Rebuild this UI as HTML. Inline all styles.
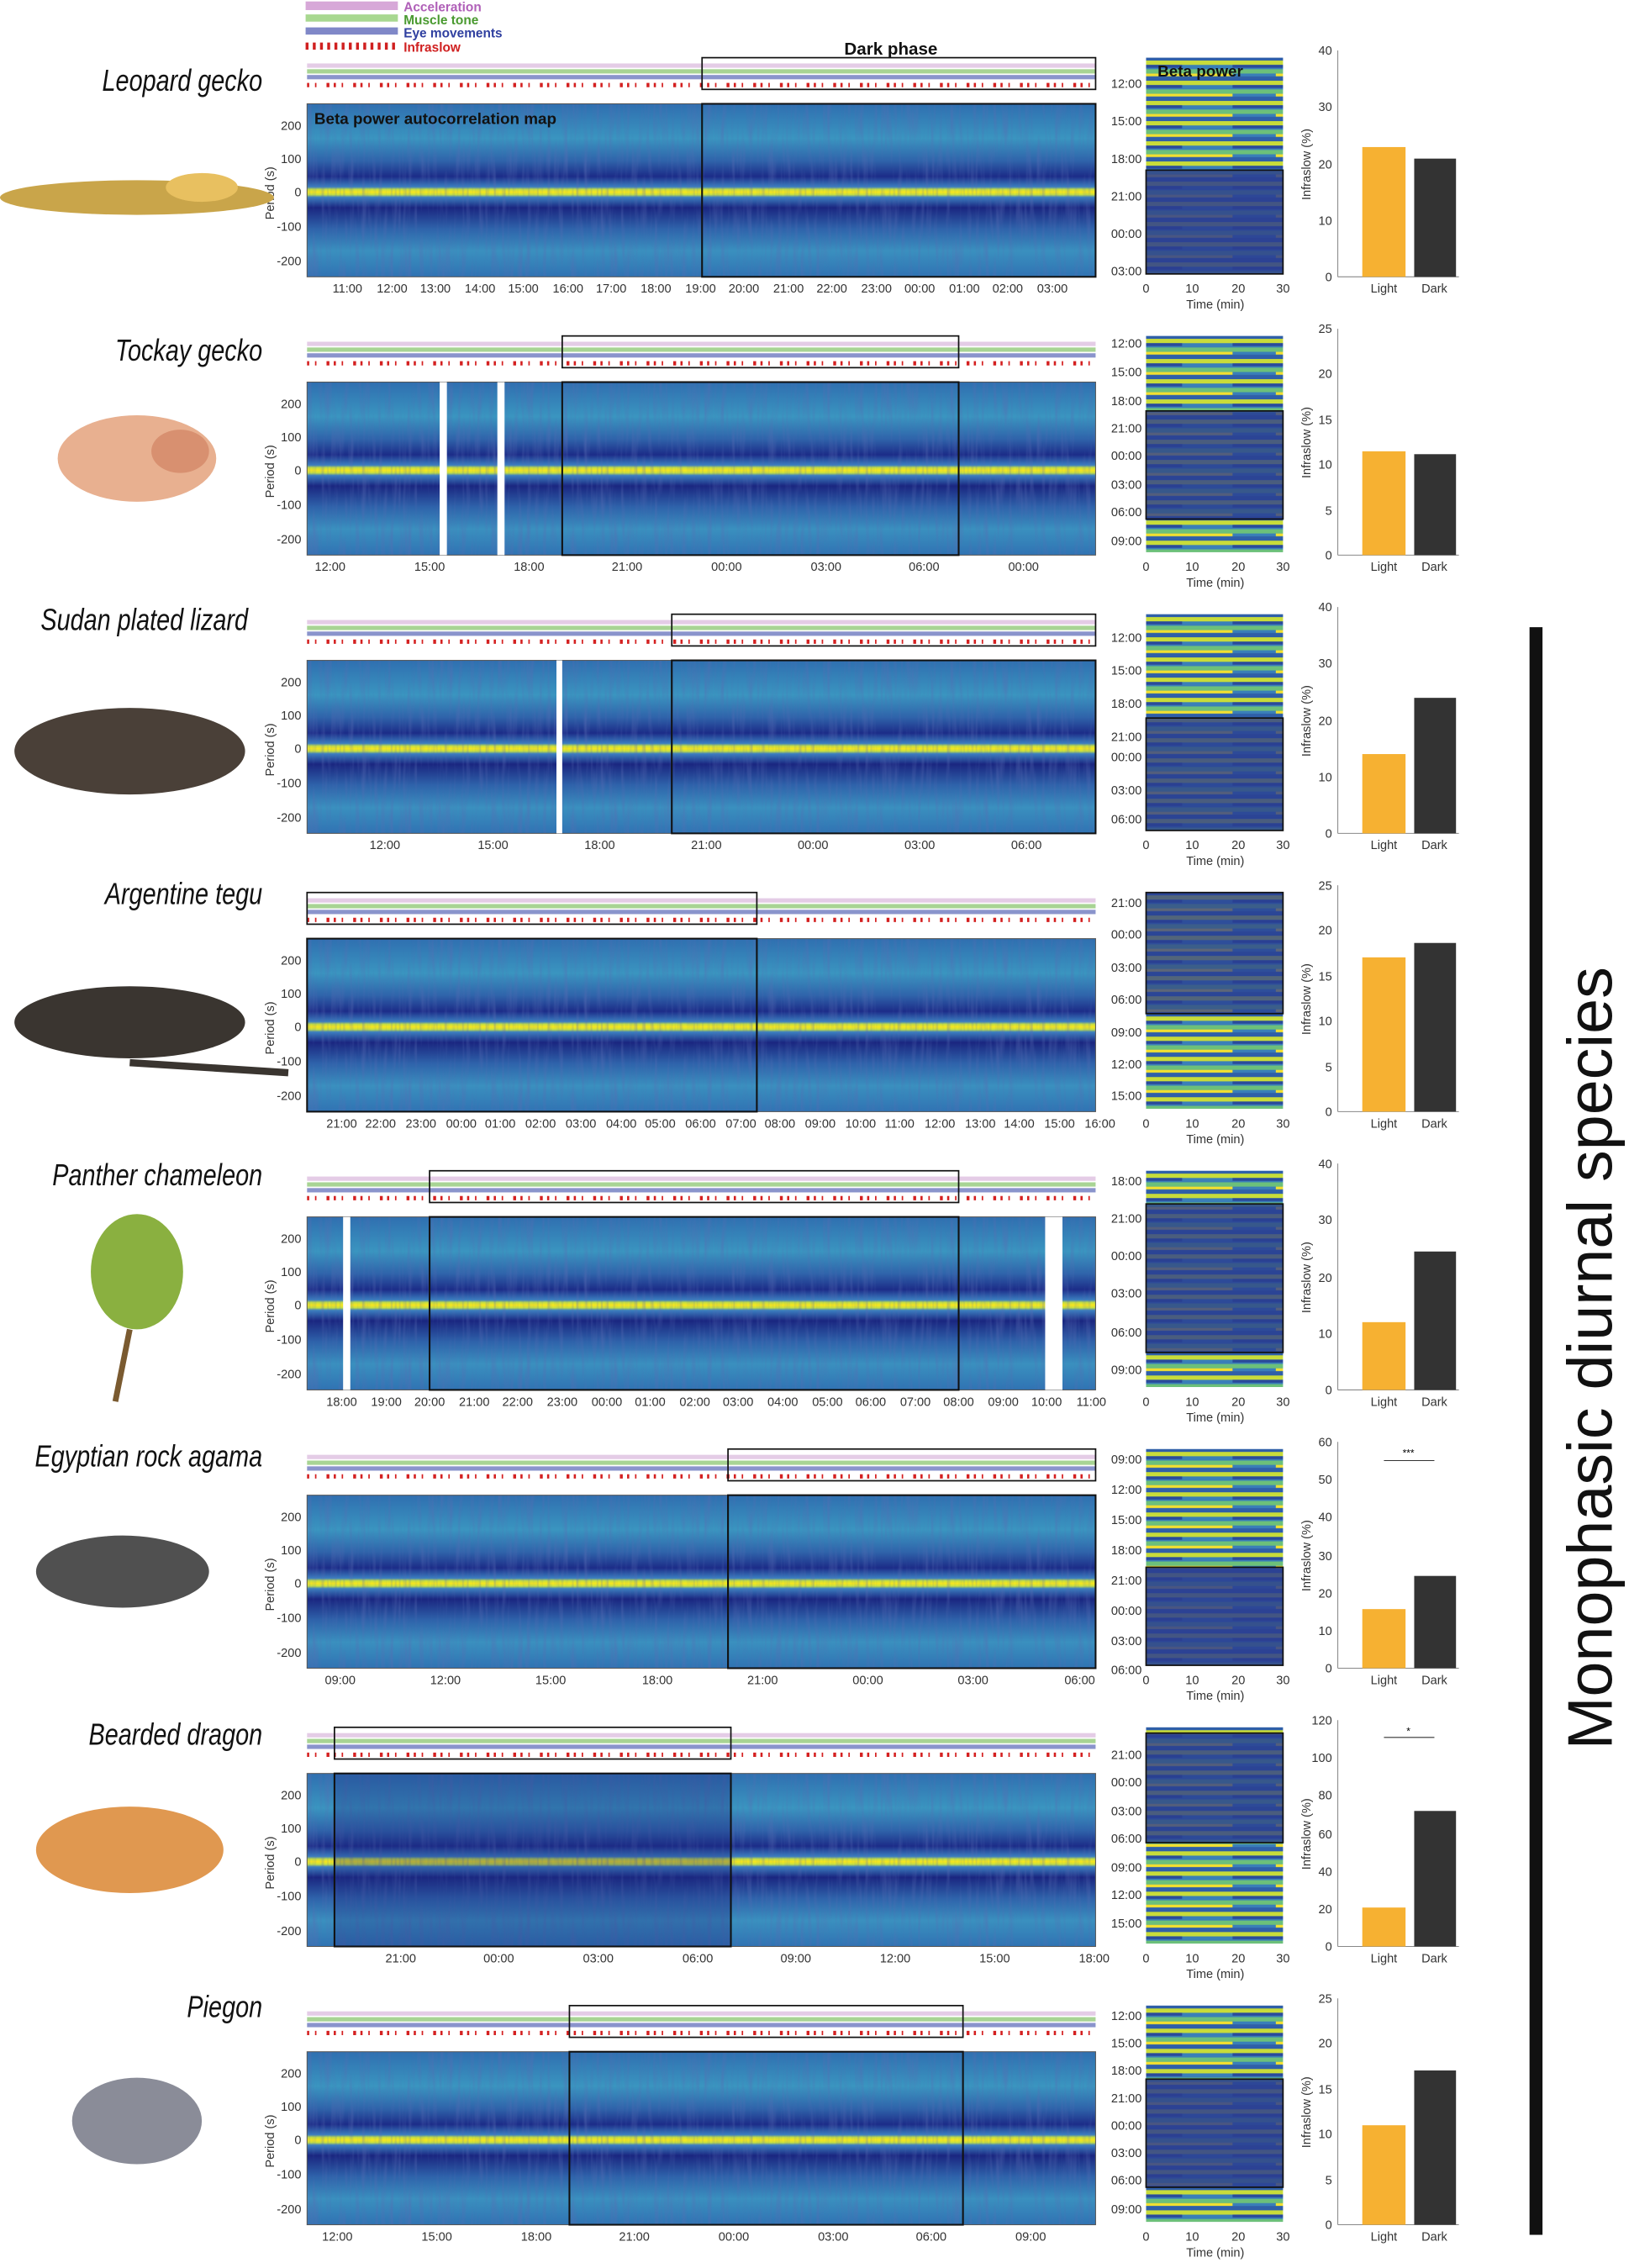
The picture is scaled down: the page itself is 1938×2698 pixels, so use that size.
<!DOCTYPE html>
<html><head><meta charset="utf-8"><style>
html,body{margin:0;padding:0;background:#fff}
svg{display:block}
text{font-family:"Liberation Sans",sans-serif}
.t{font-size:8.5px;fill:#333;text-anchor:middle}
.ty{font-size:8.5px;fill:#333;text-anchor:end}
.sp{font-size:21px;font-style:italic;text-anchor:end;fill:#111}
.lab{font-size:8.5px;fill:#333;text-anchor:middle}
</style></head><body>
<svg width="1938" height="2698" viewBox="0 0 1130 1573" preserveAspectRatio="none" xmlns="http://www.w3.org/2000/svg">
<defs>
<linearGradient id="hm" x1="0" y1="0" x2="0" y2="1">
<stop offset="0" stop-color="#2f6fb0"/><stop offset="0.2" stop-color="#3a95c0"/><stop offset="0.33" stop-color="#2f63aa"/>
<stop offset="0.42" stop-color="#1c2c88"/><stop offset="0.48" stop-color="#3b7fc0"/><stop offset="0.495" stop-color="#c8e040"/>
<stop offset="0.51" stop-color="#f7e61e"/><stop offset="0.525" stop-color="#c8e040"/><stop offset="0.54" stop-color="#3b7fc0"/>
<stop offset="0.6" stop-color="#1a2680"/><stop offset="0.72" stop-color="#2e62aa"/><stop offset="0.85" stop-color="#3a90bf"/><stop offset="1" stop-color="#3073b3"/>
</linearGradient>
<filter id="tex" x="0" y="0" width="1" height="1">
<feTurbulence type="fractalNoise" baseFrequency="0.35 0.03" numOctaves="2" seed="3"/>
<feColorMatrix type="matrix" values="0 0 0 0 0.1  0 0 0 0 0.15  0 0 0 0 0.45  0 0 0 1.6 -0.7"/>
</filter>
<pattern id="rp" width="95" height="14" patternUnits="userSpaceOnUse">
<rect width="95" height="14" fill="#3a7fb8"/>
<rect y="0" width="95" height="3" fill="#c8dc3a"/><rect y="3" width="60" height="2" fill="#2a4a9a"/>
<rect y="6" width="95" height="3" fill="#6cc07a"/><rect x="30" y="9" width="65" height="2" fill="#f2e030"/>
<rect y="11" width="95" height="3" fill="#2f5fa8"/>
</pattern>
<g id="hmap">
<rect x="213" y="72" width="547" height="120" fill="url(#hm)"/>
<rect x="213" y="72" width="547" height="120" filter="url(#tex)" opacity="0.6"/>
</g>
<g id="common">
<use href="#hmap"/>
<rect x="213" y="72" width="547" height="120" fill="none" stroke="#555" stroke-width="0.6"/>
<text class="ty" x="209" y="90">200</text><text class="ty" x="209" y="113">100</text><text class="ty" x="209" y="136">0</text>
<text class="ty" x="209" y="160">-100</text><text class="ty" x="209" y="184">-200</text>
<text class="lab" transform="translate(190,134) rotate(-90)">Period (s)</text>
<rect x="213" y="44" width="547" height="3" fill="#e4cce6"/>
<rect x="213" y="48" width="547" height="3" fill="#a8d494"/>
<rect x="213" y="52" width="547" height="3" fill="#8a94cc"/>
<line x1="213" y1="59" x2="760" y2="59" stroke="#d42020" stroke-width="3" stroke-dasharray="1.5 4 1 7 2 3"/>
<rect x="795" y="40" width="95" height="150" fill="url(#rp)"/>
<text class="t" x="795" y="203">0</text><text class="t" x="827" y="203">10</text><text class="t" x="859" y="203">20</text><text class="t" x="890" y="203">30</text>
<text class="lab" x="843" y="214">Time (min)</text>
<line x1="928" y1="35" x2="928" y2="192" stroke="#888" stroke-width="0.6"/>
<line x1="928" y1="192" x2="1012" y2="192" stroke="#888" stroke-width="0.6"/>
<text class="lab" x="960" y="203">Light</text><text class="lab" x="995" y="203">Dark</text>
<text class="lab" transform="translate(909,114) rotate(-90)">Infraslow (%)</text>
</g>
</defs>

<rect x="212" y="1" width="64" height="6" fill="#d7a8d8"/><text x="280" y="8" font-size="9" font-weight="bold" fill="#b060b8">Acceleration</text>
<rect x="212" y="10" width="64" height="5" fill="#a8d890"/><text x="280" y="17" font-size="9" font-weight="bold" fill="#4a9a30">Muscle tone</text>
<rect x="212" y="19" width="64" height="5" fill="#8088c8"/><text x="280" y="26" font-size="9" font-weight="bold" fill="#3040a0">Eye movements</text>
<line x1="212" y1="32" x2="276" y2="32" stroke="#d02020" stroke-width="5" stroke-dasharray="2 3"/><text x="280" y="36" font-size="9" font-weight="bold" fill="#d02020">Infraslow</text>
<text x="618" y="38" font-size="12" font-weight="bold" text-anchor="middle" fill="#111">Dark phase</text>

<g>
<use href="#common"/>
<rect x="487" y="40" width="273" height="22" fill="none" stroke="#111"/>
<rect x="487" y="72" width="273" height="120" fill="none" stroke="#111" stroke-width="1.2"/>
<text x="218" y="86" font-size="11" font-weight="bold" fill="#111">Beta power autocorrelation map</text>
<g class="t"><text x="241" y="203">11:00</text><text x="272" y="203">12:00</text><text x="302" y="203">13:00</text><text x="333" y="203">14:00</text><text x="363" y="203">15:00</text><text x="394" y="203">16:00</text><text x="424" y="203">17:00</text><text x="455" y="203">18:00</text><text x="486" y="203">19:00</text><text x="516" y="203">20:00</text><text x="547" y="203">21:00</text><text x="577" y="203">22:00</text><text x="608" y="203">23:00</text><text x="638" y="203">00:00</text><text x="669" y="203">01:00</text><text x="699" y="203">02:00</text><text x="730" y="203">03:00</text></g>
<rect x="795" y="118" width="95" height="72" fill="#2b3d90" opacity="0.85"/><rect x="795" y="118" width="95" height="72" fill="none" stroke="#111"/>
<text x="803" y="53" font-size="11" font-weight="bold" fill="#111">Beta power</text>
<g class="ty"><text x="792" y="61">12:00</text><text x="792" y="87">15:00</text><text x="792" y="113">18:00</text><text x="792" y="139">21:00</text><text x="792" y="165">00:00</text><text x="792" y="191">03:00</text></g>
<rect x="945" y="102" width="30" height="90" fill="#f6b132"/><rect x="981" y="110" width="29" height="82" fill="#333"/>
<g class="ty"><text x="924" y="195">0</text><text x="924" y="156">10</text><text x="924" y="117">20</text><text x="924" y="77">30</text><text x="924" y="38">40</text></g>
<text class="sp" transform="translate(182,63) scale(0.8,1)">Leopard gecko</text>
<ellipse cx="95" cy="137" rx="95" ry="12" fill="#c9a54a"/><ellipse cx="140" cy="130" rx="25" ry="10" fill="#e8c060"/>
</g>

<g transform="translate(0,193)">
<use href="#common"/>
<rect x="305" y="72" width="5" height="120" fill="#fff"/><rect x="345" y="72" width="5" height="120" fill="#fff"/>
<rect x="390" y="40" width="275" height="22" fill="none" stroke="#111"/>
<rect x="390" y="72" width="275" height="120" fill="none" stroke="#111" stroke-width="1.2"/>
<g class="t"><text x="229" y="203">12:00</text><text x="298" y="203">15:00</text><text x="367" y="203">18:00</text><text x="435" y="203">21:00</text><text x="504" y="203">00:00</text><text x="573" y="203">03:00</text><text x="641" y="203">06:00</text><text x="710" y="203">00:00</text></g>
<rect x="795" y="92" width="95" height="75" fill="#2b3d90" opacity="0.8"/><rect x="795" y="92" width="95" height="75" fill="none" stroke="#111"/>
<g class="ty"><text x="792" y="48">12:00</text><text x="792" y="68">15:00</text><text x="792" y="88">18:00</text><text x="792" y="107">21:00</text><text x="792" y="126">00:00</text><text x="792" y="146">03:00</text><text x="792" y="165">06:00</text><text x="792" y="185">09:00</text></g>
<rect x="945" y="120" width="30" height="72" fill="#f6b132"/><rect x="981" y="122" width="29" height="70" fill="#333"/>
<g class="ty"><text x="924" y="195">0</text><text x="924" y="164">5</text><text x="924" y="132">10</text><text x="924" y="101">15</text><text x="924" y="69">20</text><text x="924" y="38">25</text></g>
<text class="sp" transform="translate(182,57) scale(0.8,1)">Tockay gecko</text>
<ellipse cx="95" cy="125" rx="55" ry="30" fill="#e8b090"/><ellipse cx="125" cy="120" rx="20" ry="15" fill="#d89070"/>
</g>

<g transform="translate(0,386)">
<use href="#common"/>
<rect x="386" y="72" width="4" height="120" fill="#fff"/>
<rect x="466" y="40" width="294" height="22" fill="none" stroke="#111"/>
<rect x="466" y="72" width="294" height="120" fill="none" stroke="#111" stroke-width="1.2"/>
<g class="t"><text x="267" y="203">12:00</text><text x="342" y="203">15:00</text><text x="416" y="203">18:00</text><text x="490" y="203">21:00</text><text x="564" y="203">00:00</text><text x="638" y="203">03:00</text><text x="712" y="203">06:00</text></g>
<rect x="795" y="112" width="95" height="78" fill="#2b3d90" opacity="0.8"/><rect x="795" y="112" width="95" height="78" fill="none" stroke="#111"/>
<g class="ty"><text x="792" y="59">12:00</text><text x="792" y="82">15:00</text><text x="792" y="105">18:00</text><text x="792" y="128">21:00</text><text x="792" y="142">00:00</text><text x="792" y="165">03:00</text><text x="792" y="185">06:00</text></g>
<rect x="945" y="137" width="30" height="55" fill="#f6b132"/><rect x="981" y="98" width="29" height="94" fill="#333"/>
<g class="ty"><text x="924" y="195">0</text><text x="924" y="156">10</text><text x="924" y="117">20</text><text x="924" y="77">30</text><text x="924" y="38">40</text></g>
<text class="sp" transform="translate(172,51) scale(0.8,1)">Sudan plated lizard</text>
<ellipse cx="90" cy="135" rx="80" ry="30" fill="#4a4038"/>
</g>

<g transform="translate(0,579)">
<use href="#common"/>
<rect x="213" y="40" width="312" height="22" fill="none" stroke="#111"/>
<rect x="213" y="72" width="312" height="120" fill="none" stroke="#111" stroke-width="1.2"/>
<g class="t"><text x="237" y="203">21:00</text><text x="264" y="203">22:00</text><text x="292" y="203">23:00</text><text x="320" y="203">00:00</text><text x="347" y="203">01:00</text><text x="375" y="203">02:00</text><text x="403" y="203">03:00</text><text x="431" y="203">04:00</text><text x="458" y="203">05:00</text><text x="486" y="203">06:00</text><text x="514" y="203">07:00</text><text x="541" y="203">08:00</text><text x="569" y="203">09:00</text><text x="597" y="203">10:00</text><text x="624" y="203">11:00</text><text x="652" y="203">12:00</text><text x="680" y="203">13:00</text><text x="707" y="203">14:00</text><text x="735" y="203">15:00</text><text x="763" y="203">16:00</text></g>
<rect x="795" y="40" width="95" height="84" fill="#2b3d90" opacity="0.75"/><rect x="795" y="40" width="95" height="84" fill="none" stroke="#111"/>
<g class="ty"><text x="792" y="50">21:00</text><text x="792" y="72">00:00</text><text x="792" y="95">03:00</text><text x="792" y="117">06:00</text><text x="792" y="140">09:00</text><text x="792" y="162">12:00</text><text x="792" y="184">15:00</text></g>
<rect x="945" y="85" width="30" height="107" fill="#f6b132"/><rect x="981" y="75" width="29" height="117" fill="#333"/>
<g class="ty"><text x="924" y="195">0</text><text x="924" y="164">5</text><text x="924" y="132">10</text><text x="924" y="101">15</text><text x="924" y="69">20</text><text x="924" y="38">25</text></g>
<text class="sp" transform="translate(182,48) scale(0.8,1)">Argentine tegu</text>
<ellipse cx="90" cy="130" rx="80" ry="25" fill="#3a3530"/><line x1="90" y1="158" x2="200" y2="165" stroke="#3a3530" stroke-width="5"/>
</g>

<g transform="translate(0,772)">
<use href="#common"/>
<rect x="238" y="72" width="5" height="120" fill="#fff"/><rect x="725" y="72" width="12" height="120" fill="#fff"/>
<rect x="298" y="40" width="367" height="22" fill="none" stroke="#111"/>
<rect x="298" y="72" width="367" height="120" fill="none" stroke="#111" stroke-width="1.2"/>
<g class="t"><text x="237" y="203">18:00</text><text x="268" y="203">19:00</text><text x="298" y="203">20:00</text><text x="329" y="203">21:00</text><text x="359" y="203">22:00</text><text x="390" y="203">23:00</text><text x="421" y="203">00:00</text><text x="451" y="203">01:00</text><text x="482" y="203">02:00</text><text x="512" y="203">03:00</text><text x="543" y="203">04:00</text><text x="574" y="203">05:00</text><text x="604" y="203">06:00</text><text x="635" y="203">07:00</text><text x="665" y="203">08:00</text><text x="696" y="203">09:00</text><text x="726" y="203">10:00</text><text x="757" y="203">11:00</text></g>
<rect x="795" y="63" width="95" height="103" fill="#2b3d90" opacity="0.8"/><rect x="795" y="63" width="95" height="103" fill="none" stroke="#111"/>
<g class="ty"><text x="792" y="50">18:00</text><text x="792" y="76">21:00</text><text x="792" y="102">00:00</text><text x="792" y="128">03:00</text><text x="792" y="155">06:00</text><text x="792" y="181">09:00</text></g>
<rect x="945" y="145" width="30" height="47" fill="#f6b132"/><rect x="981" y="96" width="29" height="96" fill="#333"/>
<g class="ty"><text x="924" y="195">0</text><text x="924" y="156">10</text><text x="924" y="117">20</text><text x="924" y="77">30</text><text x="924" y="38">40</text></g>
<text class="sp" transform="translate(182,50) scale(0.8,1)">Panther chameleon</text>
<ellipse cx="95" cy="110" rx="32" ry="40" fill="#8ab040"/><line x1="90" y1="150" x2="80" y2="200" stroke="#7a5a30" stroke-width="4"/>
</g>

<g transform="translate(0,965)">
<use href="#common"/>
<rect x="505" y="40" width="255" height="22" fill="none" stroke="#111"/>
<rect x="505" y="72" width="255" height="120" fill="none" stroke="#111" stroke-width="1.2"/>
<g class="t"><text x="236" y="203">09:00</text><text x="309" y="203">12:00</text><text x="382" y="203">15:00</text><text x="456" y="203">18:00</text><text x="529" y="203">21:00</text><text x="602" y="203">00:00</text><text x="675" y="203">03:00</text><text x="749" y="203">06:00</text></g>
<rect x="795" y="122" width="95" height="68" fill="#2b3d90" opacity="0.85"/><rect x="795" y="122" width="95" height="68" fill="none" stroke="#111"/>
<g class="ty"><text x="792" y="50">09:00</text><text x="792" y="71">12:00</text><text x="792" y="92">15:00</text><text x="792" y="113">18:00</text><text x="792" y="134">21:00</text><text x="792" y="155">00:00</text><text x="792" y="176">03:00</text><text x="792" y="196">06:00</text></g>
<rect x="945" y="151" width="30" height="41" fill="#f6b132"/><rect x="981" y="128" width="29" height="64" fill="#333"/>
<line x1="960" y1="48" x2="995" y2="48" stroke="#333" stroke-width="0.6"/><text x="977" y="45" font-size="7" text-anchor="middle">***</text>
<g class="ty"><text x="924" y="195">0</text><text x="924" y="169">10</text><text x="924" y="143">20</text><text x="924" y="117">30</text><text x="924" y="90">40</text><text x="924" y="64">50</text><text x="924" y="38">60</text></g>
<text class="sp" transform="translate(182,52) scale(0.8,1)">Egyptian rock agama</text>
<ellipse cx="85" cy="125" rx="60" ry="25" fill="#505050"/>
</g>

<g transform="translate(0,1158)">
<use href="#common"/>
<rect x="232" y="40" width="275" height="22" fill="none" stroke="#111"/>
<rect x="232" y="72" width="275" height="120" fill="#1f2a80" opacity="0.3"/>
<rect x="232" y="72" width="275" height="120" fill="none" stroke="#111" stroke-width="1.2"/>
<g class="t"><text x="278" y="203">21:00</text><text x="346" y="203">00:00</text><text x="415" y="203">03:00</text><text x="484" y="203">06:00</text><text x="552" y="203">09:00</text><text x="621" y="203">12:00</text><text x="690" y="203">15:00</text><text x="759" y="203">18:00</text></g>
<rect x="795" y="44" width="95" height="76" fill="#2b3d90" opacity="0.8"/><rect x="795" y="44" width="95" height="76" fill="none" stroke="#111"/>
<g class="ty"><text x="792" y="62">21:00</text><text x="792" y="81">00:00</text><text x="792" y="101">03:00</text><text x="792" y="120">06:00</text><text x="792" y="140">09:00</text><text x="792" y="159">12:00</text><text x="792" y="179">15:00</text></g>
<rect x="945" y="165" width="30" height="27" fill="#f6b132"/><rect x="981" y="98" width="29" height="94" fill="#333"/>
<line x1="960" y1="47" x2="995" y2="47" stroke="#333" stroke-width="0.6"/><text x="977" y="45" font-size="7" text-anchor="middle">*</text>
<g class="ty"><text x="924" y="195">0</text><text x="924" y="169">20</text><text x="924" y="143">40</text><text x="924" y="117">60</text><text x="924" y="90">80</text><text x="924" y="64">100</text><text x="924" y="38">120</text></g>
<text class="sp" transform="translate(182,52) scale(0.8,1)">Bearded dragon</text>
<ellipse cx="90" cy="125" rx="65" ry="30" fill="#e09850"/>
</g>

<g transform="translate(0,1351)">
<use href="#common"/>
<rect x="395" y="40" width="273" height="22" fill="none" stroke="#111"/>
<rect x="395" y="72" width="273" height="120" fill="none" stroke="#111" stroke-width="1.2"/>
<g class="t"><text x="234" y="203">12:00</text><text x="303" y="203">15:00</text><text x="372" y="203">18:00</text><text x="440" y="203">21:00</text><text x="509" y="203">00:00</text><text x="578" y="203">03:00</text><text x="646" y="203">06:00</text><text x="715" y="203">09:00</text></g>
<rect x="795" y="91" width="95" height="75" fill="#2b3d90" opacity="0.85"/><rect x="795" y="91" width="95" height="75" fill="none" stroke="#111"/>
<g class="ty"><text x="792" y="50">12:00</text><text x="792" y="69">15:00</text><text x="792" y="88">18:00</text><text x="792" y="107">21:00</text><text x="792" y="126">00:00</text><text x="792" y="145">03:00</text><text x="792" y="164">06:00</text><text x="792" y="184">09:00</text></g>
<rect x="945" y="123" width="30" height="69" fill="#f6b132"/><rect x="981" y="85" width="29" height="107" fill="#333"/>
<g class="ty"><text x="924" y="195">0</text><text x="924" y="164">5</text><text x="924" y="132">10</text><text x="924" y="101">15</text><text x="924" y="69">20</text><text x="924" y="38">25</text></g>
<text class="sp" transform="translate(182,48) scale(0.8,1)">Piegon</text>
<ellipse cx="95" cy="120" rx="45" ry="30" fill="#8a8c98"/>
</g>

<rect x="1061" y="435" width="9" height="1115" fill="#111"/>
<text transform="translate(1118,942) rotate(-90)" font-size="44" text-anchor="middle" fill="#111">Monophasic diurnal species</text>
</svg>
</body></html>
